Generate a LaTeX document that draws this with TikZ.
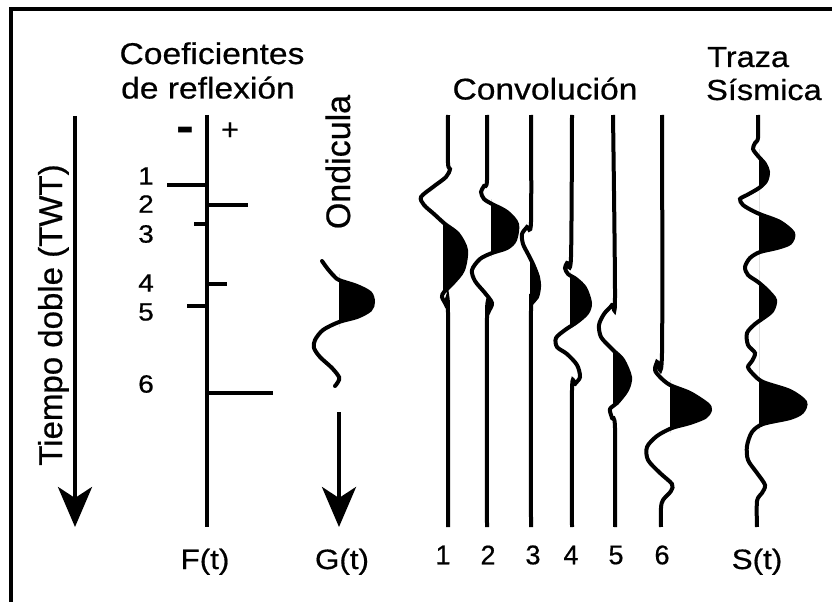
\documentclass[tikz,border=0pt]{standalone}
\usepackage{fontspec}
\newfontfamily\widefont{Liberation Sans}[FakeStretch=1.12,FakeBold=0.6]
\newfontfamily\plainfont{Liberation Sans}[FakeBold=0.6]
\newfontfamily\minusfont{Liberation Sans Bold}[FakeStretch=1.12]
\usetikzlibrary{arrows.meta}
\tikzset{
  frameline/.style={line width=3.5bp},
  trace/.style={line width=4bp},
  axisline/.style={line width=4bp},
  spike/.style={line width=4bp},
  timearrow/.style={line width=4bp,-{Stealth[length=40bp,width=34bp,inset=11bp]}},
  lab/.style={inner sep=0pt,font=\widefont\fontsize{30bp}{33bp}\selectfont},
  sublab/.style={inner sep=0pt,font=\widefont\fontsize{28bp}{31bp}\selectfont},
  numlab/.style={inner sep=0pt,font=\widefont\fontsize{25bp}{28bp}\selectfont},
  botnum/.style={inner sep=0pt,font=\plainfont\fontsize{27bp}{30bp}\selectfont},
  rotlab/.style={inner sep=0pt,rotate=90,anchor=base},
  trG/.style={insert path={plot[smooth] coordinates {(322,261) (327,268) (333,275) (339,280) (357,286) (370,293) (373,302) (370,310) (357,317) (339,322) (323,330) (315,340) (314,348) (320,357) (332,368) (339,377) (338,382) (335,386)}}},
  trA/.style={insert path={plot[smooth] coordinates {(448,115) (448,163) (450,169) (446,177) (433,187) (421,197) (424,205) (434,214) (445,224) (458,234) (466,250) (463,270) (453,283) (444,292) (442,297) (446,305) (448,313) (448,527)}}},
  trB/.style={insert path={plot[smooth] coordinates {(487,115) (487,180) (484,186) (481,192) (484,199) (492,204) (507,212) (517,224) (515,240) (507,248) (492,253) (480,259) (472,270) (475,281) (485,293) (492,303) (489,311) (487,317) (487,527)}}},
  trC/.style={insert path={plot[smooth] coordinates {(531,115) (531,222) (527,227) (522,234) (523,244) (528,254) (533,264) (538,277) (539,287) (537,297) (532,303) (531,309) (531,527)}}},
  trD/.style={insert path={plot[smooth] coordinates {(572,115) (571,257) (567,263) (565,268) (568,274) (576,279) (585,288) (590,303) (587,313) (577,322) (565,330) (556,338) (557,347) (567,354) (577,365) (580,377) (575,384) (572,390) (572,527)}}},
  trE/.style={insert path={plot[smooth] coordinates {(613,115) (615,297) (612,305) (604,314) (599,325) (601,337) (610,347) (614,351) (623,360) (630,377) (627,390) (617,403) (610,409) (612,418) (615,428) (615,527)}}},
  trF/.style={insert path={plot[smooth] coordinates {(662,115) (662,353) (657,362) (655,370) (660,377) (670,385) (690,393) (707,404) (710,410) (705,417) (690,423) (672,428) (657,436) (647,447) (648,460) (660,473) (672,484) (671,491) (663,500) (661,508) (661,527)}}},
  trS/.style={insert path={plot[smooth] coordinates {(758,115) (758,138) (755,143) (753,149) (758,156) (765,164) (768,172) (766,181) (759,188) (747,195) (740,199) (743,205) (753,211) (762,215) (780,222) (793,233) (790,243) (777,248) (760,252) (750,258) (745,267) (748,275) (758,282) (767,290) (775,300) (772,311) (762,319) (755,324) (747,333) (748,345) (755,353) (752,361) (748,367) (753,374) (763,382) (790,391) (805,402) (802,412) (790,418) (763,424) (752,432) (747,446) (748,460) (757,473) (765,485) (762,493) (757,501) (757,527)}}},
}
\begin{document}
\begin{tikzpicture}[x=1bp,y=-1bp]
\useasboundingbox (0,0) rectangle (832,602);
\fill[white] (0,0) rectangle (832,602);
% frame
\coordinate (frTR) at (832,9);
\coordinate (frTL) at (11,9);
\coordinate (frBL) at (11,602);
\draw[frameline] (frTR) -- (frTL) -- (frBL);

% time axis
\coordinate (tA) at (75,116);
\coordinate (tB) at (75,527);
\draw[timearrow] (tA) -- (tB);
\node[rotlab,font=\plainfont\fontsize{33bp}{36bp}\selectfont] (tlab) at (62,315) {Tiempo doble (TWT)};

% reflection coefficients
\node[lab,anchor=base] (coef1) at (212,64) {Coeficientes};
\node[lab,anchor=base] (coef2) at (208,98.5) {de reflexión};
\node[inner sep=0pt,anchor=base,font=\minusfont\fontsize{48bp}{48bp}\selectfont] (minus) at (185,142.7) {-};
\node[inner sep=0pt,font=\plainfont\fontsize{30bp}{32bp}\selectfont] (plus) at (230,131) {+};
\coordinate (fA) at (207,115);
\coordinate (fB) at (207,527);
\draw[axisline] (fA) -- (fB);
\draw[spike] (207,184.7) -- (167,184.7);
\draw[spike] (207,205) -- (248,205);
\draw[spike] (207,224) -- (194,224);
\draw[spike] (207,284) -- (227,284);
\draw[spike] (207,306) -- (187,306);
\draw[spike] (207,393) -- (273,393);
\node[numlab] (n1) at (146,176) {1};
\node[numlab] (n2) at (146,204) {2};
\node[numlab] (n3) at (146,234) {3};
\node[numlab] (n4) at (146,283) {4};
\node[numlab] (n5) at (146,312) {5};
\node[numlab] (n6) at (146,384) {6};
\node[sublab,anchor=base] (Ft) at (205,569) {F(t)};

% wavelet
\node[rotlab,font=\plainfont\fontsize{34bp}{36bp}\selectfont] (ond) at (350,162) {Ondicula};
\begin{scope}
  \clip (339,274) rectangle (400,326);
  \fill[trG] -- (339,386) -- (339,261) -- cycle;
\end{scope}
\draw[trace,line cap=round,trG];
\coordinate (gA) at (339,412);
\coordinate (gB) at (339,527);
\draw[timearrow] (gA) -- (gB);
\node[sublab,anchor=base] (Gt) at (342,569) {G(t)};

% convolution traces
\node[lab,anchor=base] (conv) at (545,99.5) {Convolución};
\begin{scope}
  \clip (443,220) rectangle (500,296);
  \fill[trA] -- (443,527) -- (443,115) -- cycle;
\end{scope}
\draw[trace,trA];
\begin{scope}
  \clip (491,200) rectangle (560,256);
  \fill[trB] -- (491,527) -- (491,115) -- cycle;
\end{scope}
\draw[trace,trB];
\begin{scope}
  \clip (530,258) rectangle (580,306);
  \fill[trC] -- (530,527) -- (530,115) -- cycle;
\end{scope}
\draw[trace,trC];
\begin{scope}
  \clip (570,272) rectangle (620,326);
  \fill[trD] -- (570,527) -- (570,115) -- cycle;
\end{scope}
\draw[trace,trD];
\begin{scope}
  \clip (613,348) rectangle (660,406);
  \fill[trE] -- (613,527) -- (613,115) -- cycle;
\end{scope}
\draw[trace,trE];
\begin{scope}
  \clip (670,380) rectangle (730,432);
  \fill[trF] -- (670,527) -- (670,115) -- cycle;
\end{scope}
\draw[trace,trF];
\node[botnum] (b1) at (443,555) {1};
\node[botnum] (b2) at (488,555) {2};
\node[botnum] (b3) at (533,555) {3};
\node[botnum] (b4) at (571,555) {4};
\node[botnum] (b5) at (616,555) {5};
\node[botnum] (b6) at (662,555) {6};

% seismic trace
\node[inner sep=0pt,font=\widefont\fontsize{29bp}{32bp}\selectfont,anchor=base west] (traza) at (707,67) {Traza};
\node[inner sep=0pt,font=\widefont\fontsize{29bp}{32bp}\selectfont,anchor=base west] (sism) at (706,100) {Sísmica};
\begin{scope}
  \clip (759,150) rectangle (830,429);
  \fill[trS] -- (759,527) -- (759,115) -- cycle;
\end{scope}
\draw[trace,trS];
\node[sublab,anchor=base] (St) at (757,569) {S(t)};
\end{tikzpicture}
\end{document}
